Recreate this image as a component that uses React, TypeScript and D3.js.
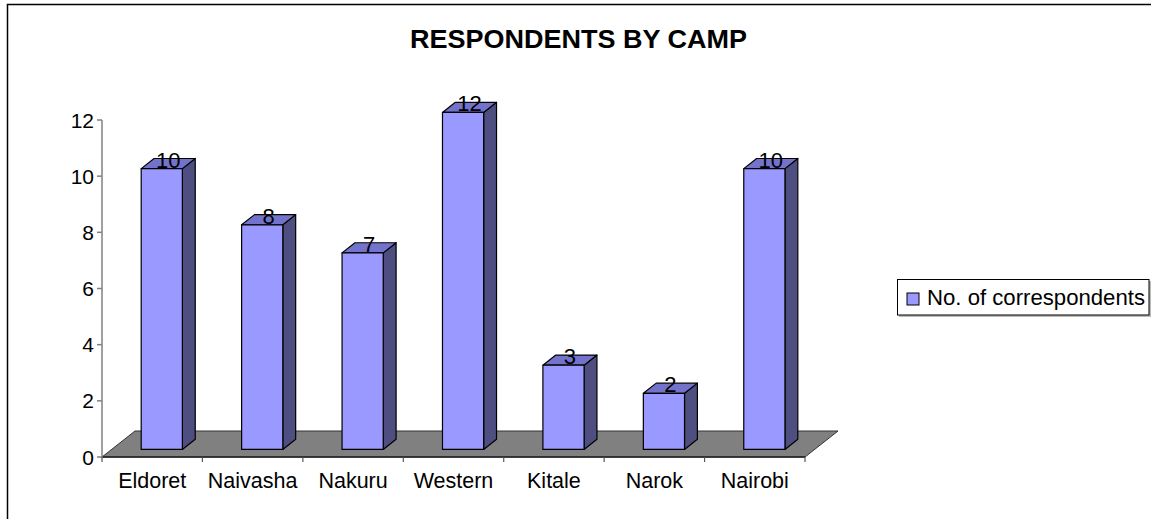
import React from "react";
import * as d3 from "d3";

const categories = ["Eldoret", "Naivasha", "Nakuru", "Western", "Kitale", "Narok", "Nairobi"];
const values = [10, 8, 7, 12, 3, 2, 10];
const yTicks = [0, 2, 4, 6, 8, 10, 12];
const seriesName = "No. of correspondents";
const title = "RESPONDENTS BY CAMP";

const W = 1151;
const H = 519;
const FONT = "'Liberation Sans', Arial, sans-serif";

export default function App() {
  const x = d3.scaleBand<string>().domain(categories).range([102, 805]).paddingInner(0).paddingOuter(0);
  const y = d3.scaleLinear().domain([0, 12]).range([457, 120]);
  const bw = x.bandwidth();
  const DX = 33;
  const DY = -26;
  const f0 = 0.29;
  const f1 = 0.68;
  const barFrac = 0.41;
  const ddx = DX * (f1 - f0);
  const ddy = DY * (f1 - f0);
  const pts = (p: number[][]) => p.map((q) => q.join(",")).join(" ");

  const y0 = y(0);
  const xL = x.range()[0];
  const xR = x.range()[1];

  return (
    <svg width={W} height={H} style={{ position: "absolute", left: 0, top: 0, background: "#fff" }} fontFamily={FONT}>
      <rect x={0} y={0} width={W} height={H} fill="#fff" />
      <rect x={7.5} y={4.5} width={1300} height={700} fill="none" stroke="#000" strokeWidth={1.5} />
      <text x={578.5} y={48} textAnchor="middle" fontSize={26} fontWeight="bold" textLength={337} lengthAdjust="spacingAndGlyphs">
        {title}
      </text>

      {/* floor */}
      <polygon
        points={pts([[xL, y0], [xR, y0], [xR + DX, y0 + DY], [xL + DX, y0 + DY]])}
        fill="#808080"
        stroke="#333"
        strokeWidth={1}
      />
      <line x1={xL} x2={xR} y1={y0} y2={y0} stroke="#222" strokeWidth={1.5} />

      {/* y axis */}
      <line x1={xL} x2={xL} y1={y(12)} y2={y0 + 1} stroke="#808080" strokeWidth={1.5} />
      {yTicks.map((t) => (
        <g key={t}>
          <line x1={xL - 5} x2={xL} y1={y(t)} y2={y(t)} stroke="#808080" strokeWidth={1.5} />
          <text x={94} y={y(t)} textAnchor="end" dominantBaseline="central" fontSize={21}>
            {t}
          </text>
        </g>
      ))}

      {/* x ticks */}
      {categories.map((c) => (
        <line key={"t" + c} x1={x(c)!} x2={x(c)!} y1={y0} y2={y0 + 5} stroke="#555" strokeWidth={1.2} />
      ))}
      <line x1={xR} x2={xR} y1={y0} y2={y0 + 5} stroke="#555" strokeWidth={1.2} />
      {categories.map((c) => (
        <text key={"l" + c} x={x(c)! + bw / 2} y={488} textAnchor="middle" fontSize={21.5}>
          {c}
        </text>
      ))}

      {/* bars */}
      {categories.map((c, i) => {
        const v = values[i];
        const w = bw * barFrac;
        const x0 = x(c)! + (bw - w) / 2 + DX * f0;
        const x1 = x0 + w;
        const yT = y(v) + DY * f0;
        const yB = y(0) + DY * f0;
        return (
          <g key={"b" + c} stroke="#000" strokeWidth={1.2} strokeLinejoin="round">
            <polygon points={pts([[x1, yT], [x1 + ddx, yT + ddy], [x1 + ddx, yB + ddy], [x1, yB]])} fill="#4e4e80" />
            <polygon points={pts([[x0, yT], [x1, yT], [x1 + ddx, yT + ddy], [x0 + ddx, yT + ddy]])} fill="#7373cc" />
            <rect x={x0} y={yT} width={w} height={yB - yT} fill="#9999ff" />
            <text x={x0 + w / 2 + ddx / 2} y={yT - 1} textAnchor="middle" fontSize={22} stroke="none" fill="#000">
              {v}
            </text>
          </g>
        );
      })}

      {/* legend */}
      <rect x={899} y={281} width={252} height={36} fill="#bbb" />
      <rect x={897.5} y={279.5} width={251.5} height={35.5} fill="#fff" stroke="#000" strokeWidth={1} />
      <rect x={907} y={293} width={12} height={12} fill="#9999ff" stroke="#000" strokeWidth={1} />
      <text x={927} y={305} fontSize={22} textLength={218} lengthAdjust="spacingAndGlyphs">
        {seriesName}
      </text>
    </svg>
  );
}
